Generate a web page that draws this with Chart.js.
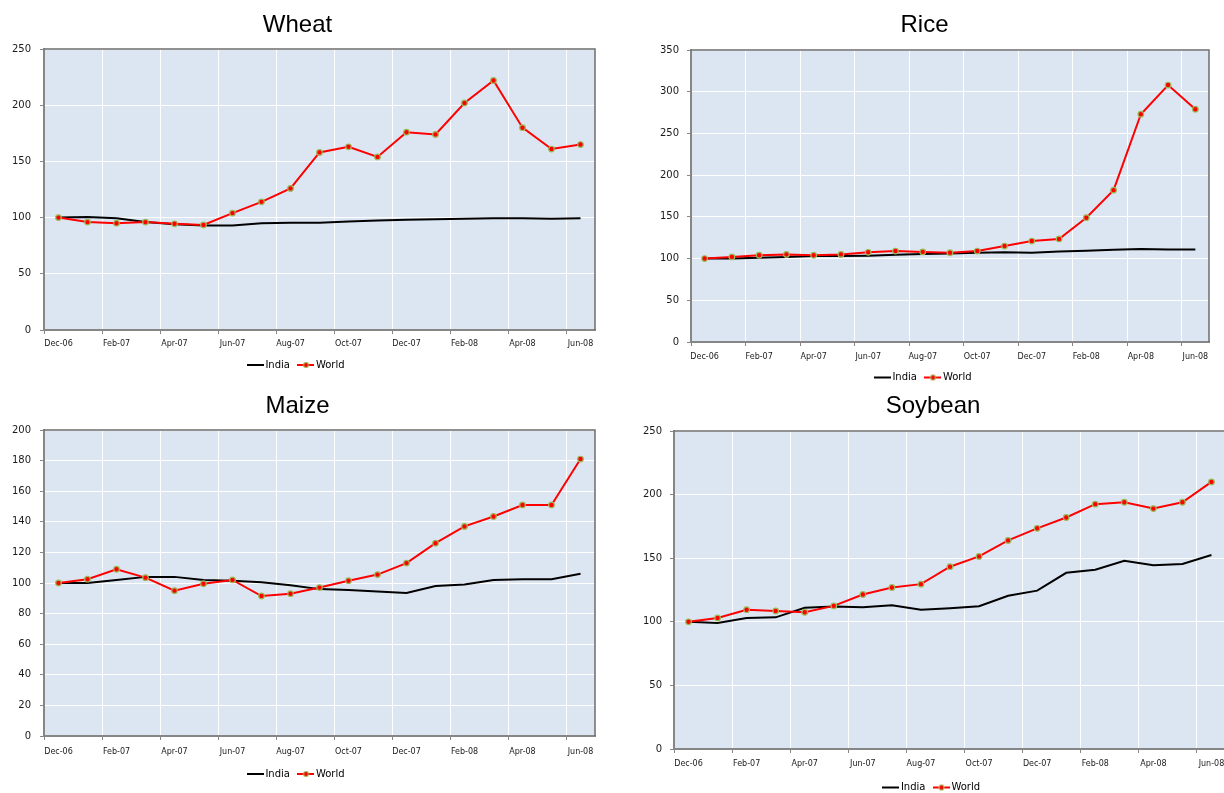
<!DOCTYPE html>
<html>
<head>
<meta charset="utf-8">
<title>India vs World prices</title>
<script src="https://cdn.jsdelivr.net/npm/chart.js@4.4.0/dist/chart.umd.min.js"></script>
<style>
  html, body { margin: 0; padding: 0; background: #fff; width: 1224px; height: 793px; overflow: hidden; }
  canvas { position: absolute; }
</style>
</head>
<body>
<canvas id="wheatChart"></canvas>
<canvas id="riceChart"></canvas>
<canvas id="maizeChart"></canvas>
<canvas id="soybeanChart"></canvas>
<script>
// data
const months = ['Dec-06', 'Jan-07', 'Feb-07', 'Mar-07', 'Apr-07', 'May-07', 'Jun-07', 'Jul-07', 'Aug-07', 'Sep-07',
  'Oct-07', 'Nov-07', 'Dec-07', 'Jan-08', 'Feb-08', 'Mar-08', 'Apr-08', 'May-08', 'Jun-08'];
const seriesNames = ['India', 'World'];

const wheatIndia = [100, 100.5, 99.5, 96, 94, 93, 93, 95, 95.5, 95.5, 96.5, 97.5, 98, 98.5, 99, 99.5, 99.5, 99, 99.5];
const wheatWorld = [100, 96, 95, 96, 94.5, 93.5, 104, 114, 126, 158, 163, 154, 176, 174, 202, 222, 180, 161, 165];
const wheatYTicks = [0, 50, 100, 150, 200, 250];

const riceIndia = [100, 100, 101, 102, 103, 103, 103.5, 104.5, 105.5, 106, 107, 107.5, 107, 108.5, 109.5, 110.5, 111.5, 111, 111];
const riceWorld = [100, 102, 104, 105, 104, 105, 107.5, 109, 108, 107, 109, 115, 121, 123.5, 149, 182, 273, 308, 279];
const riceYTicks = [0, 50, 100, 150, 200, 250, 300, 350];

const maizeIndia = [100, 100, 102, 104, 104, 102, 101.5, 100.5, 98.5, 96, 95.5, 94.5, 93.5, 98, 99, 102, 102.5, 102.5, 106];
const maizeWorld = [100, 102.5, 109, 103.5, 95, 99.5, 102, 91.5, 93, 97, 101.5, 105.5, 113, 126, 137, 143.5, 151, 151, 181];
const maizeYTicks = [0, 20, 40, 60, 80, 100, 120, 140, 160, 180, 200];

const soybeanIndia = [100, 99, 103, 103.5, 111, 112, 111.5, 113, 109.5, 110.7, 112.2, 120.5, 124.5, 138.5, 141, 148, 144.5, 145.5, 152.5];
const soybeanWorld = [100, 103, 109.5, 108.5, 107.5, 112.5, 121.5, 127, 129.6, 143.3, 151.4, 164, 173.5, 182, 192.5, 194, 189, 194, 210];
const soybeanYTicks = [0, 50, 100, 150, 200, 250];

// look
const TITLE_SIZE = 24;
const LEGEND_SIZE = 10;
const LEGEND_GAP = 11;
const X_FONT = 8;
const Y_FONT = 10;
const TICK_LEN = 4;
const AXIS_GREY = '#868686';

// box = canvas [left, top, width, height], area = plot [left, top, right, bottom], page px
const panels = [
  { id: 'wheatChart', title: 'Wheat', india: wheatIndia, world: wheatWorld, yTicks: wheatYTicks,
    box: [0, 0, 612, 396], area: [44, 49, 595, 330], titleY: 25.5, tickY: 344, legendY: 365, yPad: 9, rightBorder: true },
  { id: 'riceChart', title: 'Rice', india: riceIndia, world: riceWorld, yTicks: riceYTicks,
    box: [640, 0, 594, 396], area: [691, 50, 1209, 342], titleY: 25.5, tickY: 356.5, legendY: 377.5, yPad: 8, rightBorder: true },
  { id: 'maizeChart', title: 'Maize', india: maizeIndia, world: maizeWorld, yTicks: maizeYTicks,
    box: [0, 376, 612, 417], area: [44, 430, 595, 736], titleY: 406, tickY: 752, legendY: 774, yPad: 9, rightBorder: true },
  { id: 'soybeanChart', title: 'Soybean', india: soybeanIndia, world: soybeanWorld, yTicks: soybeanYTicks,
    box: [640, 376, 594, 440], area: [674, 431, 1226, 749], titleY: 406.5, tickY: 764, legendY: 787.5, yPad: 8, rightBorder: false }
];

// legend swatches (line, line + marker)
function swatch(color, marker) {
  const c = document.createElement('canvas');
  c.width = 17; c.height = 8;
  const g = c.getContext('2d');
  g.strokeStyle = color; g.lineWidth = 2;
  g.beginPath(); g.moveTo(0, 4); g.lineTo(17, 4); g.stroke();
  if (marker) {
    g.fillStyle = '#ff0000'; g.strokeStyle = '#9bbb59'; g.lineWidth = 1.2;
    g.beginPath(); g.arc(8.5, 4, 2.5, 0, Math.PI * 2); g.fill(); g.stroke();
  }
  return c;
}
const swatches = [swatch('#000', false), swatch('#ff0000', true)];

// plot background + top/right frame
const plotFrame = {
  id: 'plotFrame',
  beforeDraw(chart) {
    const { ctx, chartArea: a } = chart;
    ctx.save();
    ctx.fillStyle = '#dce6f2';
    ctx.fillRect(a.left, a.top, a.right - a.left, a.bottom - a.top);
    ctx.restore();
  },
  afterDraw(chart, args, opts) {
    const { ctx, chartArea: a } = chart;
    ctx.save();
    ctx.strokeStyle = '#6e6e6e';
    ctx.lineWidth = 1.5;
    ctx.beginPath();
    ctx.moveTo(a.left, a.top);
    ctx.lineTo(a.right, a.top);
    if (opts.right) ctx.lineTo(a.right, a.bottom);
    ctx.stroke();
    ctx.restore();
  }
};

panels.forEach(p => {
  const [bx, by, bw, bh] = p.box;
  const canvas = document.getElementById(p.id);
  canvas.width = bw; canvas.height = bh;
  canvas.style.left = bx + 'px'; canvas.style.top = by + 'px';

  const L = p.area[0] - bx, T = p.area[1] - by, R = p.area[2] - bx, B = p.area[3] - by;
  const titleLH = TITLE_SIZE * 1.2;
  const titleTop = p.titleY - by - titleLH / 2;
  const legendH = LEGEND_SIZE + LEGEND_GAP + 10;
  const padBottom = bh - (p.legendY - by) - 10 - LEGEND_SIZE / 2;
  const xAxisH = bh - padBottom - legendH - B;
  const xTickPad = (p.tickY - by) - B - TICK_LEN - X_FONT * 1.2 / 2;
  const yMax = p.yTicks[p.yTicks.length - 1];
  const yStep = p.yTicks[1] - p.yTicks[0];

  new Chart(canvas, {
    type: 'line',
    data: {
      labels: months,
      datasets: [
        { label: seriesNames[0], data: p.india, order: 1, borderColor: '#000', borderWidth: 2,
          pointRadius: 0, tension: 0 },
        { label: seriesNames[1], data: p.world, order: 0, borderColor: '#ff0000', borderWidth: 2,
          pointRadius: 2.8, pointBackgroundColor: '#ff0000', pointBorderColor: '#9bbb59', pointBorderWidth: 1.2, tension: 0 }
      ]
    },
    options: {
      responsive: false,
      animation: false,
      events: [],
      layout: { padding: { left: 0, top: 0, right: bw - R, bottom: padBottom } },
      scales: {
        x: {
          offset: true,
          afterFit: s => { s.height = xAxisH; },
          border: { color: AXIS_GREY, width: 2 },
          grid: {
            offset: true,
            lineWidth: 1,
            tickLength: TICK_LEN,
            color: c => (c.index > 0 && c.index % 2 === 0) ? '#ffffff' : 'rgba(0,0,0,0)',
            tickColor: c => (c.index !== undefined && c.index % 2 === 0) ? AXIS_GREY : 'rgba(0,0,0,0)'
          },
          ticks: {
            autoSkip: false, maxRotation: 0, padding: xTickPad, color: '#1a1a1a',
            font: { family: '"DejaVu Sans"', size: X_FONT },
            callback: (v, i) => i % 2 === 0 ? months[i] : ''
          }
        },
        y: {
          min: 0, max: yMax,
          afterFit: s => { s.width = L; },
          border: { color: AXIS_GREY, width: 2 },
          grid: { color: '#ffffff', lineWidth: 1, tickLength: TICK_LEN, tickColor: AXIS_GREY },
          ticks: { stepSize: yStep, padding: p.yPad, color: '#1a1a1a', font: { family: '"DejaVu Sans"', size: Y_FONT } }
        }
      },
      plugins: {
        tooltip: { enabled: false },
        plotFrame: { right: p.rightBorder },
        title: {
          display: true, text: p.title, color: '#000',
          font: { family: '"Liberation Sans", Arial', size: TITLE_SIZE, weight: 'normal', lineHeight: 1.2 },
          padding: { top: titleTop, bottom: T - titleTop - titleLH }
        },
        legend: {
          position: 'bottom',
          labels: {
            usePointStyle: true, pointStyleWidth: 10, padding: LEGEND_GAP, color: '#000',
            font: { family: '"DejaVu Sans"', size: LEGEND_SIZE },
            sort: (a, b) => a.datasetIndex - b.datasetIndex,
            generateLabels: chart => Chart.defaults.plugins.legend.labels.generateLabels(chart)
              .map(item => Object.assign(item, { pointStyle: swatches[item.datasetIndex], lineWidth: 0 }))
          }
        }
      }
    },
    plugins: [plotFrame]
  });
});
</script>
</body>
</html>
